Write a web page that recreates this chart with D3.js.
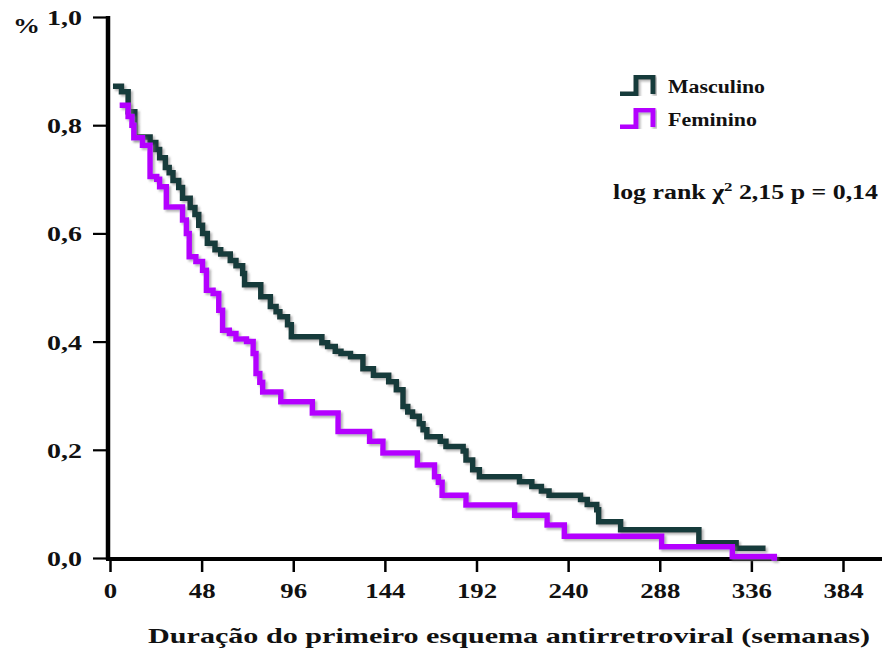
<!DOCTYPE html>
<html lang="pt">
<head>
    <meta charset="UTF-8">
    <title>Duração do primeiro esquema antirretroviral</title>
    <script src="https://d3js.org/d3.v7.min.js"></script>
    <style>
        body {
            margin: 0;
            padding: 0;
            background: #fff;
        }

        #chart {
            display: block;
        }

        text {
            font-family: "Liberation Serif", "Times New Roman", serif;
            font-weight: bold;
            fill: #111;
        }
    </style>
</head>
<body>
<svg id="chart" width="882" height="652"></svg>

<script>
    // Kaplan-Meier steps (time in weeks, survival after the step)
    var maleTimes = [3, 6, 9.5, 13, 21, 24, 26, 29, 31, 33, 36, 38, 42, 44.5, 46.5, 48.5, 51, 55, 58, 63,
        66, 69.5, 70.5, 79, 84, 87, 89, 93, 95, 111, 114, 118, 121, 126, 132.5, 138, 146, 150, 153.5, 156,
        158.5, 162, 164, 166, 173, 176, 185, 186.5, 190, 193.5, 214.5, 221, 226, 230, 246.5, 250, 255, 256,
        267.5, 308.5, 328, 342];
    var maleSurv = [0.872, 0.862, 0.825, 0.778, 0.768, 0.755, 0.740, 0.722, 0.712, 0.698, 0.685, 0.665, 0.648, 0.635, 0.615, 0.600, 0.582, 0.570, 0.562, 0.550,
        0.540, 0.526, 0.505, 0.483, 0.465, 0.455, 0.446, 0.431, 0.409, 0.398, 0.391, 0.382, 0.378, 0.372, 0.350, 0.338, 0.326, 0.311, 0.280, 0.270,
        0.262, 0.248, 0.237, 0.224, 0.216, 0.206, 0.198, 0.181, 0.163, 0.150, 0.141, 0.132, 0.124, 0.116, 0.108, 0.099, 0.089, 0.067,
        0.052, 0.028, 0.018, 0.018];

    var femTimes = [6.5, 9.5, 11.5, 12.5, 17, 21, 24.5, 26, 29.5, 38, 40, 41.5, 45, 48.5, 50.5, 54, 57, 59, 62.5,
        66, 71.5, 75, 76.5, 78.5, 80, 89.5, 106, 119.5, 136, 143, 161, 170, 172, 174, 186.5, 212, 229, 238, 289, 326, 348];
    var femSurv = [0.837, 0.816, 0.800, 0.777, 0.763, 0.705, 0.700, 0.686, 0.649, 0.625, 0.600, 0.557, 0.548, 0.532, 0.495, 0.489, 0.458, 0.421, 0.415,
        0.405, 0.400, 0.378, 0.341, 0.325, 0.307, 0.289, 0.268, 0.234, 0.216, 0.194, 0.172, 0.150, 0.140, 0.116, 0.098, 0.079, 0.061, 0.040, 0.021, 0.003, 0];

    var xTicks = [0, 48, 96, 144, 192, 240, 288, 336, 384];
    var yTicks = [0, 0.2, 0.4, 0.6, 0.8, 1.0];

    var seriesNames = ["Masculino", "Feminino"];
    var seriesColors = ["#163a3a", "#b400ff"];

    var svg = d3.select("#chart");

    var x = d3.scaleLinear().domain([0, 384]).range([110, 843]);
    var y = d3.scaleLinear().domain([0, 1]).range([558, 17]);

    // soft grey shadow under the curves
    var defs = svg.append("defs");
    var f = defs.append("filter").attr("id", "shadow")
        .attr("x", "-10%").attr("y", "-10%").attr("width", "120%").attr("height", "120%");
    f.append("feDropShadow")
        .attr("dx", 2).attr("dy", 2).attr("stdDeviation", 1.3)
        .attr("flood-color", "#777").attr("flood-opacity", 0.55);

    var comma = function(d) { return d3.format(".1f")(d).replace(".", ","); };

    // y axis
    var yAxis = svg.append("g")
        .attr("transform", "translate(108,0)")
        .call(d3.axisLeft(y).tickValues(yTicks).tickFormat(comma).tickSize(15).tickSizeOuter(0));
    yAxis.select(".domain").remove();
    yAxis.selectAll(".tick line").attr("stroke", "#000").attr("stroke-width", 2.2);
    yAxis.selectAll(".tick text")
        .attr("x", -26 / 1.27)
        .attr("dy", "0.34em")
        .attr("transform", "scale(1.27,1)")
        .style("font-size", "22px")
        .style("font-family", "'Liberation Serif', serif")
        .style("font-weight", "bold")
        .attr("fill", "#111");
    svg.append("line")
        .attr("x1", 108).attr("x2", 108)
        .attr("y1", y(1) - 1).attr("y2", 560)
        .attr("stroke", "#000").attr("stroke-width", 4.5);

    // x axis
    var xAxis = svg.append("g")
        .attr("transform", "translate(0,559)")
        .call(d3.axisBottom(x).tickValues(xTicks).tickSize(13).tickSizeOuter(0));
    xAxis.select(".domain").remove();
    xAxis.selectAll(".tick line").attr("stroke", "#000").attr("stroke-width", 2.5);
    xAxis.selectAll(".tick text")
        .attr("y", 39)
        .attr("dy", 0)
        .attr("transform", "scale(1.22,1)")
        .style("font-size", "22px")
        .style("font-family", "'Liberation Serif', serif")
        .style("font-weight", "bold")
        .attr("fill", "#111");
    svg.append("line")
        .attr("x1", 106).attr("x2", 882)
        .attr("y1", 559).attr("y2", 559)
        .attr("stroke", "#000").attr("stroke-width", 4);

    // curves
    var line = d3.line()
        .x(function(d) { return x(d[0]); })
        .y(function(d) { return y(d[1]); })
        .curve(d3.curveStepAfter);

    var series = [d3.zip(maleTimes, maleSurv), d3.zip(femTimes, femSurv)];

    svg.selectAll("path.km")
        .data(series)
        .enter().append("path")
        .attr("class", "km")
        .attr("d", line)
        .attr("fill", "none")
        .attr("stroke", function(d, i) { return seriesColors[i]; })
        .attr("stroke-width", 5.5)
        .attr("stroke-linejoin", "miter")
        .attr("stroke-linecap", "square")
        .attr("filter", "url(#shadow)");

    // legend
    var legendY = [86, 119];
    var legend = svg.selectAll("g.legend")
        .data(seriesNames)
        .enter().append("g")
        .attr("class", "legend")
        .attr("transform", function(d, i) { return "translate(0," + legendY[i] + ")"; });
    legend.append("path")
        .attr("d", "M620,8 H636 V-9 H653 V8")
        .attr("fill", "none")
        .attr("stroke", function(d, i) { return seriesColors[i]; })
        .attr("stroke-width", 5)
        .attr("filter", "url(#shadow)");
    legend.append("text")
        .attr("x", 668)
        .attr("y", 7)
        .attr("textLength", function(d, i) { return i === 0 ? 97 : 89; })
        .attr("lengthAdjust", "spacingAndGlyphs")
        .style("font-size", "18px")
        .text(function(d) { return d; });

    // log rank annotation
    var lr = svg.append("text")
        .attr("x", 613)
        .attr("y", 199)
        .attr("textLength", 265)
        .attr("lengthAdjust", "spacingAndGlyphs")
        .style("font-size", "20px");
    lr.append("tspan").text("log rank χ");
    lr.append("tspan").attr("dy", -8).style("font-size", "13px").text("2");
    lr.append("tspan").attr("dy", 8).text(" 2,15  p = 0,14");

    // % label and x title
    svg.append("text")
        .attr("x", 13)
        .attr("y", 33)
        .attr("textLength", 27)
        .attr("lengthAdjust", "spacingAndGlyphs")
        .style("font-size", "20px")
        .text("%");

    svg.append("text")
        .attr("x", 148)
        .attr("y", 643)
        .attr("textLength", 722)
        .attr("lengthAdjust", "spacingAndGlyphs")
        .style("font-size", "21px")
        .text("Duração do primeiro esquema antirretroviral (semanas)");
</script>
</body>
</html>
